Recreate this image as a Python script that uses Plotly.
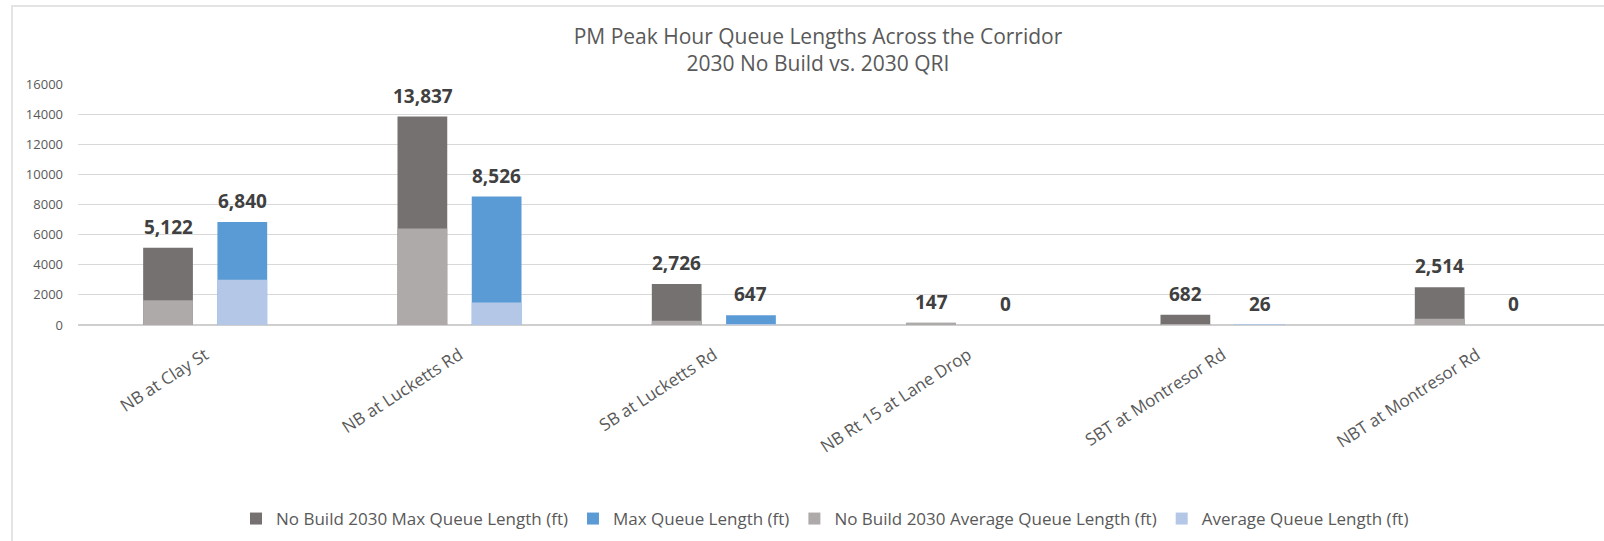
import plotly.graph_objects as go

# Intersections along the corridor
locations = [
    "NB at Clay St",
    "NB at Lucketts Rd",
    "SB at Lucketts Rd",
    "NB Rt 15 at Lane Drop",
    "SBT at Montresor Rd",
    "NBT at Montresor Rd",
]

# Queue lengths (ft), PM peak hour
no_build_max = [5122, 13837, 2726, 147, 682, 2514]
qri_max = [6840, 8526, 647, 0, 26, 0]
no_build_avg = [1650, 6400, 280, 110, 60, 420]
qri_avg = [3000, 1500, 60, 0, 10, 0]

y_ticks = [0, 2000, 4000, 6000, 8000, 10000, 12000, 14000, 16000]

FONT = "Open Sans"
TEXT_GREY = "#595959"
LABEL_GREY = "#404040"

fig = go.Figure()

fig.add_trace(go.Bar(
    x=locations, y=no_build_max, name="No Build 2030 Max Queue Length (ft)",
    marker=dict(color="#767171", line=dict(width=0)), offsetgroup="nb",
))
fig.add_trace(go.Bar(
    x=locations, y=qri_max, name="Max Queue Length (ft)",
    marker=dict(color="#5B9BD5", line=dict(width=0)), offsetgroup="qri",
))
fig.add_trace(go.Bar(
    x=locations, y=no_build_avg, name="No Build 2030 Average Queue Length (ft)",
    marker=dict(color="#AEAAAA", line=dict(width=0)), offsetgroup="nb",
))
fig.add_trace(go.Bar(
    x=locations, y=qri_avg, name="Average Queue Length (ft)",
    marker=dict(color="#B4C7E7", line=dict(width=0)), offsetgroup="qri",
))

# Value labels above the max-queue bars
for values, shift in ((no_build_max, -37), (qri_max, 37)):
    for loc, v in zip(locations, values):
        fig.add_annotation(
            x=loc, y=v, xref="x", yref="y", text=f"<b>{v:,}</b>",
            showarrow=False, xshift=shift, yanchor="bottom", yshift=6,
            font=dict(family=FONT, size=19, color=LABEL_GREY),
        )

W, H = 1604, 541
L, R, T, B = 78, 0, 84, 216
pw, ph = W - L - R, H - T - B

# Chart frame (left and top edges)
fig.add_shape(
    type="rect", xref="paper", yref="paper",
    x0=(12 - L) / pw, x1=(W + 20 - L) / pw,
    y0=-(H + 20 - T - ph) / ph, y1=1 + (T - 6) / ph,
    line=dict(color="#e4e4e4", width=2), fillcolor="rgba(0,0,0,0)", layer="below",
)

fig.update_layout(
    width=W, height=H,
    margin=dict(l=L, r=R, t=T, b=B),
    paper_bgcolor="white", plot_bgcolor="white",
    barmode="group", bargap=0.416, bargroupgap=0.33,
    title=dict(
        text="PM Peak Hour Queue Lengths Across the Corridor<br>2030 No Build vs. 2030 QRI",
        x=(818 - L) / pw, xref="paper", xanchor="center",
        y=1 - 44 / H, yanchor="middle",
        font=dict(family=FONT, size=21, color=TEXT_GREY),
    ),
    font=dict(family=FONT, color=TEXT_GREY),
    legend=dict(
        orientation="h", x=(825 - L) / pw, xanchor="center",
        y=-(519 - T - ph) / ph, yanchor="middle",
        font=dict(family=FONT, size=17, color=TEXT_GREY),
        itemwidth=30, traceorder="normal",
    ),
    showlegend=True,
)

fig.update_yaxes(
    range=[0, 16000], tickvals=y_ticks, ticktext=[str(t) for t in y_ticks],
    showgrid=True, gridcolor="#d9d9d9", gridwidth=1,
    zeroline=True, zerolinecolor="#cfcfcf", zerolinewidth=2,
    ticks="", ticklabelstandoff=14,
    tickfont=dict(family=FONT, size=13, color=TEXT_GREY),
    fixedrange=True,
)
fig.update_xaxes(
    tickangle=-33, ticks="", showline=False, showgrid=False,
    ticklabelstandoff=16,
    tickfont=dict(family=FONT, size=17, color=TEXT_GREY),
)

fig.write_html("out.html")
